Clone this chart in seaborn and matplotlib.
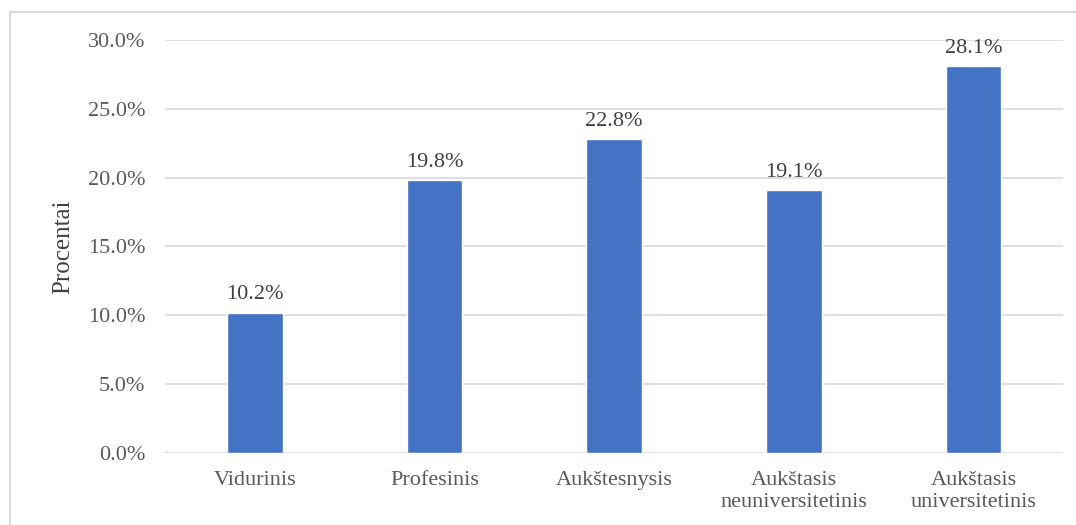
import matplotlib
matplotlib.use("Agg")
import matplotlib.pyplot as plt
import seaborn as sns
import pandas as pd
from matplotlib.patches import Rectangle

categories = ["Vidurinis", "Profesinis", "Aukštesnysis",
              "Aukštasis\nneuniversitetinis", "Aukštasis\nuniversitetinis"]
values = [10.2, 19.8, 22.8, 19.1, 28.1]
yticks = [0, 5, 10, 15, 20, 25, 30]

df = pd.DataFrame({"kategorija": categories, "procentai": values})

sns.set_style("white")
plt.rcParams["font.family"] = ["Liberation Serif", "DejaVu Serif"]

fig = plt.figure(figsize=(10.76, 5.25), dpi=100)
ax = fig.add_axes([0.1533, 0.137, 0.835, 0.787])

sns.barplot(data=df, x="kategorija", y="procentai", color="#4472C4",
            width=0.31, saturation=1, ax=ax)

ax.set_ylim(0, 30)
ax.set_yticks(yticks)
ax.set_yticklabels([f"{t:.1f}%" for t in yticks])
ax.grid(axis="y", color="#d9d9d9", linewidth=1.2)
ax.set_axisbelow(True)
for s in ax.spines.values():
    s.set_visible(False)
ax.tick_params(axis="both", length=0, labelsize=16, labelcolor="#595959")
ax.tick_params(axis="y", pad=14)
ax.tick_params(axis="x", pad=13)
ax.set_xlabel("")
ax.set_ylabel("Procentai", fontsize=18, color="#404040", labelpad=10)

for i, v in enumerate(values):
    ax.annotate(f"{v:.1f}%", (i, v), xytext=(0, 6), textcoords="offset points",
                ha="center", va="bottom", fontsize=16, color="#404040")

# outer chart border
fig.patches.append(Rectangle((10 / 1076, -0.01), 1.02, 1 - 12 / 525 + 0.01,
                             transform=fig.transFigure, fill=False,
                             edgecolor="#d9d9d9", linewidth=1.5))

fig.savefig("out.png", dpi=100)
